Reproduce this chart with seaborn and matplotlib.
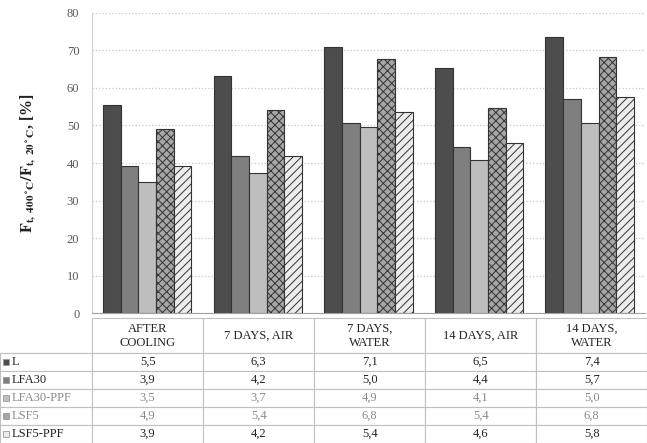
import matplotlib
matplotlib.use("Agg")
import pandas as pd
import matplotlib.pyplot as plt
import seaborn as sns
from matplotlib.patches import Rectangle

# categories and series
categories = ['AFTER\nCOOLING', '7 DAYS, AIR', '7 DAYS,\nWATER', '14 DAYS, AIR', '14 DAYS,\nWATER']
series = ['L', 'LFA30', 'LFA30-PPF', 'LSF5', 'LSF5-PPF']

# bar heights [%]
l_pct = [55.5, 63.2, 70.9, 65.3, 73.6]
lfa30_pct = [39.2, 42.0, 50.6, 44.3, 57.0]
lfa30ppf_pct = [35.0, 37.3, 49.5, 40.8, 50.6]
lsf5_pct = [49.0, 54.1, 67.7, 54.6, 68.2]
lsf5ppf_pct = [39.2, 42.0, 53.6, 45.3, 57.6]

# table values
l_tab = ['5,5', '6,3', '7,1', '6,5', '7,4']
lfa30_tab = ['3,9', '4,2', '5,0', '4,4', '5,7']
lfa30ppf_tab = ['3,5', '3,7', '4,9', '4,1', '5,0']
lsf5_tab = ['4,9', '5,4', '6,8', '5,4', '6,8']
lsf5ppf_tab = ['3,9', '4,2', '5,4', '4,6', '5,8']

pct = [l_pct, lfa30_pct, lfa30ppf_pct, lsf5_pct, lsf5ppf_pct]
tab = [l_tab, lfa30_tab, lfa30ppf_tab, lsf5_tab, lsf5ppf_tab]

df = pd.DataFrame(
    [(c, s, v) for s, vals in zip(series, pct) for c, v in zip(categories, vals)],
    columns=['cat', 'series', 'val'])

colors = {'L': '#4d4d4d', 'LFA30': '#7f7f7f', 'LFA30-PPF': '#bebebe',
          'LSF5': '#a6a6a6', 'LSF5-PPF': '#ededed'}

sns.set_style('white')
plt.rcParams['font.family'] = ['Liberation Serif', 'DejaVu Serif']
plt.rcParams['mathtext.fontset'] = 'stix'
plt.rcParams['hatch.linewidth'] = 0.7

fig = plt.figure(figsize=(6.47, 4.43), dpi=100)
ax = fig.add_axes([0.142, 0.293, 0.855, 0.678])

sns.barplot(data=df, x='cat', y='val', hue='series', order=categories,
            hue_order=series, palette=colors, edgecolor='#333333',
            linewidth=0.8, width=0.8, ax=ax, legend=False)

# textured bars
for bar in ax.containers[3]:
    bar.set_hatch('xxxx')
    if hasattr(bar, 'set_hatchcolor'):
        bar.set_hatchcolor('#4a4a4a')
for bar in ax.containers[4]:
    bar.set_hatch('////')
    if hasattr(bar, 'set_hatchcolor'):
        bar.set_hatchcolor('#c4c4c4')

ax.set_ylim(0, 80)
ax.set_yticks(range(0, 81, 10))
ax.tick_params(axis='y', length=0, labelsize=9, labelcolor='#595959', pad=9)
ax.set_xlabel('')
ax.set_xticks([])
ax.set_xticks([0.5, 1.5, 2.5, 3.5], minor=True)
ax.tick_params(axis='x', which='minor', length=5, color='#c0c0c0', width=0.8,
               labelbottom=False)
ax.yaxis.grid(True, linestyle=':', color='#c8c8c8', linewidth=0.9)
ax.set_axisbelow(True)
for side in ['top', 'right']:
    ax.spines[side].set_visible(False)
ax.spines['left'].set_color('#d0d0d0')
ax.spines['bottom'].set_color('#a0a0a0')

ax.set_ylabel(r'$\mathbf{F_{t,\ 400^\circ C}/F_{t,\ 20^\circ C}}$, [%]',
              fontsize=11.5, fontweight='bold', color='#222222')
ax.yaxis.set_label_coords(-0.095, 0.5)

# data table under the chart
cell_text = [[s] + vals for s, vals in zip(series, tab)]
table = ax.table(cellText=cell_text, colLabels=[''] + categories,
                 cellLoc='center', colWidths=[92] + [111] * 5,
                 bbox=[-0.166, -0.432, 1.17, 0.415])
table.auto_set_font_size(False)
table.set_fontsize(9)
for (r, c), cell in table.get_celld().items():
    cell.set_edgecolor('#c0c0c0')
    cell.set_linewidth(0.8)
    cell.set_height(35 if r == 0 else 18)
    txt = cell.get_text()
    txt.set_color('#8a8a8a' if r in (3, 4) else '#222222')
    if c == 0:
        cell.PAD = 0.13
        txt.set_ha('left')
        cell._loc = 'left'
table[0, 0].visible_edges = 'BR'

fig.canvas.draw()
renderer = fig.canvas.get_renderer()
inv = fig.transFigure.inverted()
for i, s in enumerate(series):
    bb = table[i + 1, 0].get_window_extent(renderer)
    cy = (bb.y0 + bb.y1) / 2
    (x0, y0) = inv.transform((bb.x0 + 3, cy - 3))
    (x1, y1) = inv.transform((bb.x0 + 9, cy + 3))
    fig.add_artist(Rectangle((x0, y0), x1 - x0, y1 - y0, transform=fig.transFigure,
                             facecolor=colors[s], edgecolor='#9a9a9a', linewidth=0.6))

fig.savefig('out.png', dpi=100)
